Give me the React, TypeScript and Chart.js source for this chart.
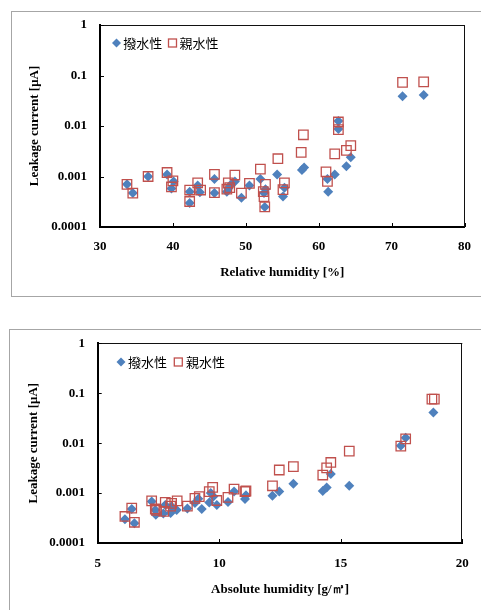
import React, { useEffect, useRef } from 'react';
import { Chart, registerables } from 'chart.js';

Chart.register(...registerables);

const SERIF = '"Liberation Serif", "Times New Roman", serif';
const SANS_JP = '"Noto Sans CJK JP", "Noto Sans", sans-serif';

// ---------- data ----------
const seriesNames = ['撥水性', '親水性'];
const yTitle = 'Leakage current [μA]';
const rhTitle = 'Relative humidity [%]';
const ahTitle = 'Absolute humidity [g/㎥]';

const yTickValues = [0.0001, 0.001, 0.01, 0.1, 1];
const yTickLabels = ['0.0001', '0.001', '0.01', '0.1', '1'];
const rhTickValues = [30, 40, 50, 60, 70, 80];
const ahTickValues = [5, 10, 15, 20];

// Relative humidity chart
const rhRepellentX = [33.7, 34.5, 36.6, 39.2, 39.8, 40.1, 42.3, 42.3, 43.4, 43.7, 45.7, 45.7, 47.4, 47.6, 47.9, 48.5, 49.4, 50.5, 52.0, 52.5, 52.6, 52.7, 54.3, 55.1, 55.3, 57.7, 58.0, 61.2, 61.3, 62.2, 62.7, 62.7, 63.8, 64.4, 71.5, 74.4];
const rhRepellentY = [0.0007, 0.00047, 0.001, 0.0011, 0.00058, 0.0008, 0.0005, 0.0003, 0.00066, 0.00049, 0.00089, 0.00047, 0.0005, 0.00058, 0.00068, 0.0008, 0.00038, 0.00066, 0.00089, 0.00047, 0.00025, 0.00056, 0.0011, 0.0004, 0.0006, 0.00135, 0.0015, 0.00089, 0.0005, 0.0011, 0.0126, 0.0087, 0.0016, 0.0024, 0.039, 0.041];
const rhHydrophilicX = [33.7, 34.5, 36.6, 39.2, 39.8, 40.0, 42.3, 42.3, 43.4, 43.8, 45.7, 45.7, 47.4, 47.6, 47.8, 48.5, 49.4, 50.5, 52.0, 52.4, 52.5, 52.7, 52.6, 54.4, 55.1, 55.3, 57.6, 57.9, 61.0, 61.2, 62.2, 62.7, 62.7, 63.8, 64.4, 71.5, 74.4];
const rhHydrophilicY = [0.0007, 0.00047, 0.001, 0.0012, 0.00062, 0.00082, 0.00054, 0.00032, 0.00075, 0.00054, 0.0011, 0.00048, 0.00056, 0.00075, 0.0006, 0.00107, 0.00047, 0.00073, 0.0014, 0.0005, 0.0004, 0.0007, 0.00025, 0.00225, 0.00055, 0.00075, 0.003, 0.0067, 0.00124, 0.0008, 0.0028, 0.012, 0.0085, 0.0033, 0.0041, 0.073, 0.075];

// Absolute humidity chart
const ahRepellentX = [6.12, 6.40, 6.51, 7.22, 7.37, 7.39, 7.70, 7.78, 8.00, 8.04, 8.25, 8.69, 9.0, 9.14, 9.28, 9.59, 9.65, 9.76, 9.9, 10.36, 10.61, 11.06, 11.1, 12.19, 12.47, 13.05, 14.26, 14.42, 14.59, 15.35, 17.47, 17.67, 18.81];
const ahRepellentY = [0.0003, 0.00048, 0.00025, 0.00068, 0.00046, 0.00037, 0.00039, 0.00058, 0.0004, 0.00054, 0.00046, 0.00049, 0.00063, 0.00077, 0.00048, 0.00065, 0.001, 0.00085, 0.00058, 0.00066, 0.00107, 0.00076, 0.0009, 0.00088, 0.00107, 0.00153, 0.0011, 0.0013, 0.0024, 0.0014, 0.0089, 0.0129, 0.041];
const ahHydrophilicX = [6.12, 6.40, 6.51, 7.22, 7.37, 7.42, 7.72, 7.78, 8.0, 8.04, 8.27, 8.69, 9.0, 9.18, 9.59, 9.73, 9.9, 10.36, 10.61, 11.06, 11.1, 12.19, 12.47, 13.05, 14.26, 14.42, 14.59, 15.35, 17.47, 17.67, 18.75, 18.85];
const ahHydrophilicY = [0.00034, 0.0005, 0.00026, 0.0007, 0.00048, 0.00045, 0.00043, 0.00065, 0.00055, 0.00062, 0.0007, 0.00055, 0.00078, 0.00085, 0.00107, 0.0013, 0.00071, 0.00082, 0.0012, 0.00107, 0.0011, 0.0014, 0.0029, 0.0034, 0.0023, 0.0032, 0.0041, 0.0069, 0.0087, 0.0122, 0.076, 0.076];

const BLUE = '#4F81BD';
const RED = '#C0504D';

const pairs = (xs: number[], ys: number[]) => xs.map((x, i) => ({ x, y: ys[i] }));

type Geo = {
  w: number; h: number;
  padTop: number; padRight: number;
  yWidth: number; xHeight: number;
  yTickPad: number; xTickPad: number;
  yTitlePad: number; xTitlePad: number;
  legendY: number; legend: { marker: number; text: number }[];
};

function makeFramePlugin() {
  return {
    id: 'frameTicks',
    beforeDatasetsDraw(chart: any) {
      const { ctx, chartArea, scales } = chart;
      const { left, right, top, bottom } = chartArea;
      ctx.save();
      ctx.strokeStyle = '#111';
      ctx.lineWidth = 1;
      ctx.beginPath();
      ctx.moveTo(left, Math.round(top) + 0.5);
      ctx.lineTo(right, Math.round(top) + 0.5);
      ctx.moveTo(Math.round(right) - 0.5, top);
      ctx.lineTo(Math.round(right) - 0.5, bottom);
      ctx.stroke();
      ctx.strokeStyle = '#000';
      ctx.beginPath();
      scales.x.ticks.forEach((t: any) => {
        const px = Math.round(scales.x.getPixelForValue(t.value)) + 0.5;
        ctx.moveTo(px, bottom);
        ctx.lineTo(px, bottom - 4);
      });
      scales.y.ticks.forEach((t: any) => {
        const py = Math.round(scales.y.getPixelForValue(t.value)) + 0.5;
        ctx.moveTo(left, py);
        ctx.lineTo(left + 4, py);
      });
      ctx.stroke();
      ctx.restore();
    },
  };
}

function makeLegendPlugin(geo: Geo) {
  return {
    id: 'inlineLegend',
    afterDraw(chart: any) {
      const { ctx, chartArea } = chart;
      const cy = chartArea.top + geo.legendY;
      chart.data.datasets.forEach((ds: any, i: number) => {
        const it = geo.legend[i];
        const mx = chartArea.left + it.marker;
        ctx.save();
        if (ds.pointStyle === 'rectRot') {
          const r = 4.5;
          ctx.fillStyle = ds.backgroundColor;
          ctx.beginPath();
          ctx.moveTo(mx, cy - r);
          ctx.lineTo(mx + r, cy);
          ctx.lineTo(mx, cy + r);
          ctx.lineTo(mx - r, cy);
          ctx.closePath();
          ctx.fill();
        } else {
          const s = 8;
          ctx.strokeStyle = ds.borderColor;
          ctx.lineWidth = 1.3;
          ctx.strokeRect(mx - s / 2, cy - s / 2, s, s);
        }
        ctx.fillStyle = '#000';
        ctx.font = `13px ${SANS_JP}`;
        ctx.textBaseline = 'middle';
        ctx.textAlign = 'left';
        ctx.fillText(ds.label, chartArea.left + it.text, cy + 0.5);
        ctx.restore();
      });
    },
  };
}

type Props = {
  boxStyle: React.CSSProperties;
  geo: Geo;
  xMin: number; xMax: number; xTicks: number[]; xTitle: string;
  repellent: { x: number; y: number }[];
  hydrophilic: { x: number; y: number }[];
};

function LogScatter(props: Props) {
  const ref = useRef<HTMLCanvasElement>(null);
  useEffect(() => {
    const g = props.geo;
    const tickFont = { family: SERIF, size: 13, weight: 'bold' as const };
    const chart = new Chart(ref.current as HTMLCanvasElement, {
      type: 'scatter',
      data: {
        datasets: [
          {
            label: seriesNames[0],
            data: props.repellent,
            pointStyle: 'rectRot',
            pointRadius: 5,
            pointHoverRadius: 5,
            backgroundColor: BLUE,
            borderColor: BLUE,
            borderWidth: 0,
            order: 1,
          },
          {
            label: seriesNames[1],
            data: props.hydrophilic,
            pointStyle: 'rect',
            pointRadius: 6.7,
            pointHoverRadius: 6.7,
            backgroundColor: 'rgba(0,0,0,0)',
            borderColor: RED,
            borderWidth: 1.3,
            order: 0,
          },
        ],
      } as any,
      options: {
        animation: false,
        responsive: false,
        maintainAspectRatio: false,
        layout: { padding: { top: g.padTop, right: g.padRight, left: 0, bottom: 0 } },
        plugins: { legend: { display: false }, tooltip: { enabled: false } },
        scales: {
          x: {
            type: 'linear',
            min: props.xMin,
            max: props.xMax,
            afterBuildTicks: (s: any) => { s.ticks = props.xTicks.map((v) => ({ value: v })); },
            afterFit: (s: any) => { s.height = g.xHeight; s.paddingLeft = 0; s.paddingRight = 0; s.paddingTop = 0; s.paddingBottom = 0; },
            grid: { display: false, drawTicks: false },
            border: { display: true, color: '#000', width: 2 },
            ticks: { padding: g.xTickPad, font: tickFont, color: '#000', maxRotation: 0, autoSkip: false, callback: (v: any) => String(v) },
            title: { display: true, text: props.xTitle, color: '#000', font: tickFont, padding: { top: 0, bottom: g.xTitlePad } },
          },
          y: {
            type: 'logarithmic',
            min: yTickValues[0],
            max: yTickValues[yTickValues.length - 1],
            afterBuildTicks: (s: any) => { s.ticks = yTickValues.map((v) => ({ value: v })); },
            afterFit: (s: any) => { s.width = g.yWidth; s.paddingLeft = 0; s.paddingRight = 0; s.paddingTop = 0; s.paddingBottom = 0; },
            grid: { display: false, drawTicks: false },
            border: { display: true, color: '#000', width: 2 },
            ticks: { padding: g.yTickPad, font: tickFont, color: '#000', autoSkip: false, callback: (_v: any, i: number) => yTickLabels[i] },
            title: { display: true, text: yTitle, color: '#000', font: tickFont, padding: { top: g.yTitlePad, bottom: 0 } },
          },
        },
      } as any,
      plugins: [makeFramePlugin(), makeLegendPlugin(g)],
    });
    return () => chart.destroy();
  }, []);
  return (
    <div style={props.boxStyle}>
      <canvas ref={ref} width={props.geo.w} height={props.geo.h} style={{ display: 'block', width: props.geo.w, height: props.geo.h }} />
    </div>
  );
}

const topGeo: Geo = {
  w: 469, h: 284,
  padTop: 13, padRight: 16.5,
  yWidth: 88, xHeight: 69,
  yTickPad: 13, xTickPad: 12.2,
  yTitlePad: 15.2, xTitlePad: 15.5,
  legendY: 18,
  legend: [{ marker: 16.5, text: 23.3 }, { marker: 72.5, text: 79.5 }],
};

const bottomGeo: Geo = {
  w: 471, h: 280,
  padTop: 13.3, padRight: 18.7,
  yWidth: 87.7, xHeight: 67,
  yTickPad: 12.7, xTickPad: 13.2,
  yTitlePad: 15.5, xTitlePad: 12.2,
  legendY: 18.7,
  legend: [{ marker: 23.3, text: 30.3 }, { marker: 80.6, text: 88.3 }],
};

export default function App() {
  const border = '1px solid #a6a6a6';
  return (
    <div>
      <LogScatter
        boxStyle={{ position: 'absolute', left: 11, top: 11, width: 470, height: 286, boxSizing: 'border-box', borderLeft: border, borderTop: border, borderBottom: border, background: '#fff' }}
        geo={topGeo}
        xMin={rhTickValues[0]}
        xMax={rhTickValues[rhTickValues.length - 1]}
        xTicks={rhTickValues}
        xTitle={rhTitle}
        repellent={pairs(rhRepellentX, rhRepellentY)}
        hydrophilic={pairs(rhHydrophilicX, rhHydrophilicY)}
      />
      <LogScatter
        boxStyle={{ position: 'absolute', left: 9, top: 329, width: 472, height: 281, boxSizing: 'border-box', borderLeft: border, borderTop: border, background: '#fff' }}
        geo={bottomGeo}
        xMin={ahTickValues[0]}
        xMax={ahTickValues[ahTickValues.length - 1]}
        xTicks={ahTickValues}
        xTitle={ahTitle}
        repellent={pairs(ahRepellentX, ahRepellentY)}
        hydrophilic={pairs(ahHydrophilicX, ahHydrophilicY)}
      />
    </div>
  );
}
